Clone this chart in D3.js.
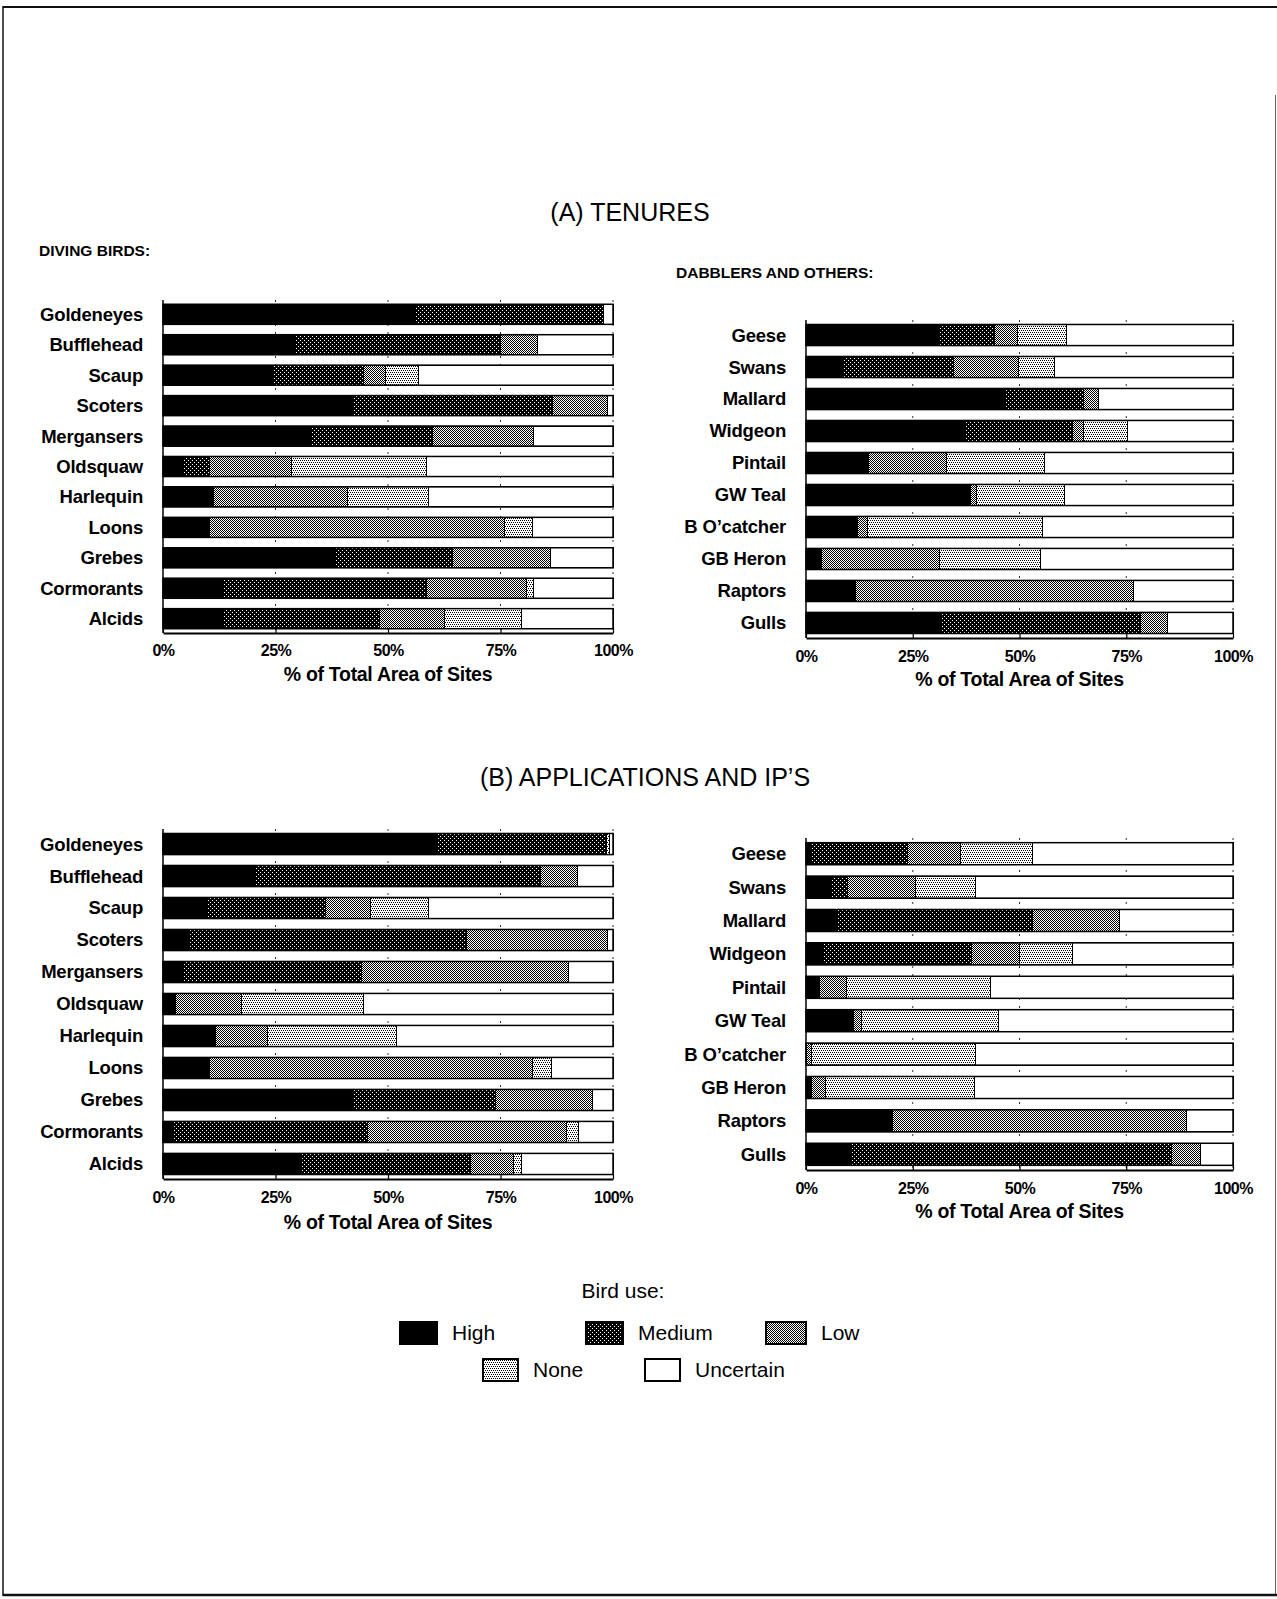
<!DOCTYPE html>
<html><head><meta charset="utf-8">
<script src="https://cdn.jsdelivr.net/npm/d3@7"></script>
<style>
html,body{margin:0;padding:0;background:#fff;}
svg{display:block;font-family:"Liberation Sans", Arial, Helvetica, sans-serif;}
</style></head><body>
<svg id="chart" width="1277" height="1599"></svg>
<script>
// Bird-use classes, in stacking order
const useLevels = ["High", "Medium", "Low", "None", "Uncertain"];

const divingBirds = ["Goldeneyes", "Bufflehead", "Scaup", "Scoters", "Mergansers", "Oldsquaw",
  "Harlequin", "Loons", "Grebes", "Cormorants", "Alcids"];
const dabblersOthers = ["Geese", "Swans", "Mallard", "Widgeon", "Pintail", "GW Teal",
  "B O\u2019catcher", "GB Heron", "Raptors", "Gulls"];

const tickValues = [0, 25, 50, 75, 100];

// % of total site area in each class: [High, Medium, Low, None, Uncertain]
const tenuresDiving = [
  [56.0, 41.8, 0.0, 0.0, 2.2],
  [29.5, 45.5, 8.3, 0.0, 16.7],
  [24.5, 20.1, 4.8, 7.3, 43.3],
  [42.4, 44.2, 12.1, 0.0, 1.3],
  [33.0, 26.8, 22.6, 0.0, 17.6],
  [4.5, 5.8, 18.3, 29.9, 41.5],
  [11.2, 0.0, 29.8, 18.0, 41.0],
  [10.3, 0.0, 65.6, 6.2, 17.9],
  [38.4, 25.9, 21.9, 0.0, 13.8],
  [13.4, 45.1, 22.3, 1.6, 17.6],
  [13.4, 34.8, 14.3, 17.1, 20.4]
];
const tenuresDabblers = [
  [31.3, 12.9, 5.3, 11.4, 39.1],
  [8.7, 25.8, 15.2, 8.5, 41.8],
  [46.5, 18.4, 3.6, 0.0, 31.5],
  [37.4, 24.9, 2.6, 10.3, 24.8],
  [14.7, 0.0, 18.1, 23.1, 44.1],
  [38.6, 0.0, 1.4, 20.5, 39.5],
  [12.0, 0.0, 2.4, 41.0, 44.6],
  [3.7, 0.0, 27.6, 23.7, 45.0],
  [11.7, 0.0, 64.9, 0.0, 23.4],
  [31.5, 46.9, 6.2, 0.0, 15.4]
];
const applicationsDiving = [
  [60.7, 37.8, 0.0, 0.7, 0.8],
  [20.5, 63.4, 8.2, 0.0, 7.9],
  [9.8, 26.2, 10.0, 12.9, 41.1],
  [5.8, 61.6, 31.3, 0.0, 1.3],
  [4.5, 39.7, 45.8, 0.0, 10.0],
  [2.7, 0.0, 14.7, 27.1, 55.5],
  [11.6, 0.0, 11.6, 28.6, 48.2],
  [10.3, 0.0, 71.8, 4.2, 13.7],
  [42.4, 31.4, 21.7, 0.0, 4.5],
  [2.2, 43.3, 44.2, 2.7, 7.6],
  [30.8, 37.5, 9.6, 1.7, 20.4]
];
const applicationsDabblers = [
  [1.4, 22.3, 12.4, 16.9, 47.0],
  [5.7, 4.0, 15.9, 14.0, 60.4],
  [7.4, 45.6, 20.5, 0.0, 26.5],
  [4.0, 34.7, 11.3, 12.4, 37.6],
  [3.2, 0.0, 6.2, 33.9, 56.7],
  [11.1, 0.0, 1.8, 32.1, 55.0],
  [0.0, 0.0, 1.4, 38.2, 60.4],
  [1.2, 0.0, 3.4, 34.8, 60.6],
  [20.3, 0.0, 68.9, 0.0, 10.8],
  [10.6, 75.1, 6.6, 0.0, 7.7]
];

const svg = d3.select("#chart");
const defs = svg.append("defs");

// one-pixel screen-tone patterns
function tone(id, size, bg, fg, cells) {
  const p = defs.append("pattern").attr("id", id)
    .attr("patternUnits", "userSpaceOnUse")
    .attr("width", size).attr("height", size);
  p.append("rect").attr("width", size).attr("height", size).attr("fill", bg);
  cells.forEach(([cx, cy]) => p.append("rect").attr("x", cx).attr("y", cy)
    .attr("width", 1).attr("height", 1).attr("fill", fg));
}
tone("toneMedium", 4, "#000", "#fff", [[0, 0], [2, 2]]);
tone("toneLow", 2, "#fff", "#000", [[0, 0], [1, 1]]);
tone("toneNone", 4, "#fff", "#000", [[0, 0], [2, 0], [1, 2], [3, 2]]);

const fills = {
  High: "#000",
  Medium: "url(#toneMedium)",
  Low: "url(#toneLow)",
  None: "url(#toneNone)",
  Uncertain: "#fff"
};

// page frame
const frame = svg.append("g").attr("fill", "none").attr("stroke", "#111");
frame.append("line").attr("x1", 3).attr("x2", 3).attr("y1", 6).attr("y2", 1596).attr("stroke-width", 1.5);
frame.append("line").attr("x1", 3).attr("x2", 1277).attr("y1", 7).attr("y2", 7).attr("stroke-width", 2);
frame.append("line").attr("x1", 1275.5).attr("x2", 1275.5).attr("y1", 95).attr("y2", 1596).attr("stroke-width", 1).attr("stroke", "#666");
frame.append("line").attr("x1", 3).attr("x2", 1277).attr("y1", 1595).attr("y2", 1595).attr("stroke-width", 2.5);

function drawPanel(cfg) {
  const x = d3.scaleLinear().domain([0, 100]).range([cfg.x0, cfg.x1]);
  const y = d3.scaleBand().domain(cfg.names).range([cfg.y0, cfg.y1])
    .paddingInner(0.34).paddingOuter(0.14);
  const rows = cfg.names.map((name, i) => {
    const r = { name };
    useLevels.forEach((k, j) => r[k] = cfg.values[i][j]);
    return r;
  });
  const series = d3.stack().keys(useLevels)(rows);
  const g = svg.append("g");

  // dotted quarter lines, visible between bars
  g.append("g").selectAll("line").data(tickValues.slice(1)).join("line")
    .attr("x1", d => x(d)).attr("x2", d => x(d))
    .attr("y1", cfg.y0).attr("y2", cfg.y1)
    .attr("stroke", "#333").attr("stroke-width", 1)
    .attr("stroke-dasharray", "2,6");

  // stacked segments
  g.append("g").selectAll("g").data(series).join("g")
    .attr("fill", d => fills[d.key])
    .selectAll("rect").data(d => d.filter(s => s[1] - s[0] > 0)).join("rect")
    .attr("x", d => x(d[0])).attr("width", d => x(d[1]) - x(d[0]))
    .attr("y", d => y(d.data.name)).attr("height", y.bandwidth())
    .attr("stroke", "#000").attr("stroke-width", 1)
    .attr("shape-rendering", "crispEdges");

  // bar outlines
  g.append("g").selectAll("rect").data(rows).join("rect")
    .attr("x", x(0)).attr("width", x(100) - x(0))
    .attr("y", d => y(d.name)).attr("height", y.bandwidth())
    .attr("fill", "none").attr("stroke", "#000").attr("stroke-width", 1.5);

  // category labels
  g.append("g").selectAll("text").data(cfg.names).join("text")
    .attr("x", cfg.labelX).attr("y", d => y(d) + y.bandwidth() / 2)
    .attr("dy", "0.35em").attr("text-anchor", "end")
    .attr("font-size", 18.5).attr("font-weight", "bold")
    .attr("letter-spacing", -0.2)
    .text(d => d);

  // left axis line
  g.append("line").attr("x1", x(0)).attr("x2", x(0))
    .attr("y1", cfg.y0).attr("y2", cfg.y1)
    .attr("stroke", "#000").attr("stroke-width", 1.5);

  // bottom axis
  const axis = d3.axisBottom(x).tickValues(tickValues).tickFormat(d => d + "%")
    .tickSize(-5).tickSizeOuter(0);
  g.append("g").attr("transform", `translate(0,${cfg.y1})`).call(axis)
    .call(a => a.select(".domain").attr("stroke-width", 2))
    .call(a => a.selectAll(".tick line").attr("stroke-width", 1.2))
    .call(a => a.selectAll("text")
      .attr("y", cfg.tickY - cfg.y1).attr("dy", "0.35em")
      .attr("font-size", 16).attr("font-weight", "bold")
      .attr("font-family", "'Liberation Sans', Arial, sans-serif")
      .attr("letter-spacing", -0.5)
      .attr("fill", "#000"));

  g.append("text").attr("x", (cfg.x0 + cfg.x1) / 2).attr("y", cfg.titleY)
    .attr("dy", "0.35em").attr("text-anchor", "middle")
    .attr("font-size", 19.5).attr("font-weight", "bold").attr("letter-spacing", -0.3)
    .text("% of Total Area of Sites");
}

drawPanel({ names: divingBirds, values: tenuresDiving,
  x0: 163, x1: 613, y0: 300, y1: 633, labelX: 143, tickY: 650, titleY: 674 });
drawPanel({ names: dabblersOthers, values: tenuresDabblers,
  x0: 806, x1: 1233, y0: 320, y1: 638, labelX: 786, tickY: 656, titleY: 679 });
drawPanel({ names: divingBirds, values: applicationsDiving,
  x0: 163, x1: 613, y0: 829, y1: 1179, labelX: 143, tickY: 1197, titleY: 1222 });
drawPanel({ names: dabblersOthers, values: applicationsDabblers,
  x0: 806, x1: 1233, y0: 838, y1: 1170, labelX: 786, tickY: 1188, titleY: 1211 });

// section headings
svg.append("text").attr("x", 630).attr("y", 212).attr("dy", "0.35em")
  .attr("text-anchor", "middle").attr("font-size", 25).text("(A) TENURES");
svg.append("text").attr("x", 645).attr("y", 777).attr("dy", "0.35em")
  .attr("text-anchor", "middle").attr("font-size", 25).text("(B) APPLICATIONS AND IP\u2019S");
svg.append("text").attr("x", 39).attr("y", 251).attr("dy", "0.35em")
  .attr("font-size", 15.5).attr("font-weight", "bold").text("DIVING BIRDS:");
svg.append("text").attr("x", 676).attr("y", 273).attr("dy", "0.35em")
  .attr("font-size", 15.5).attr("font-weight", "bold").text("DABBLERS AND OTHERS:");

// legend
const legendItems = [
  { key: "High", x: 400, y: 1322, w: 37 },
  { key: "Medium", x: 586, y: 1322, w: 37 },
  { key: "Low", x: 766, y: 1322, w: 40 },
  { key: "None", x: 483, y: 1359, w: 35 },
  { key: "Uncertain", x: 645, y: 1359, w: 35 }
];
const legend = svg.append("g");
legend.append("text").attr("x", 623).attr("y", 1291).attr("dy", "0.35em")
  .attr("text-anchor", "middle").attr("font-size", 21).text("Bird use:");
const li = legend.selectAll("g.item").data(legendItems).join("g").attr("class", "item");
li.append("rect").attr("x", d => d.x).attr("y", d => d.y).attr("width", d => d.w).attr("height", 22)
  .attr("fill", d => fills[d.key]).attr("stroke", "#000").attr("stroke-width", 1.2)
  .attr("shape-rendering", "crispEdges");
li.append("text").attr("x", d => d.x + d.w + 15).attr("y", d => d.y + 11).attr("dy", "0.35em")
  .attr("font-size", 21).text(d => d.key);
</script>
</body></html>
